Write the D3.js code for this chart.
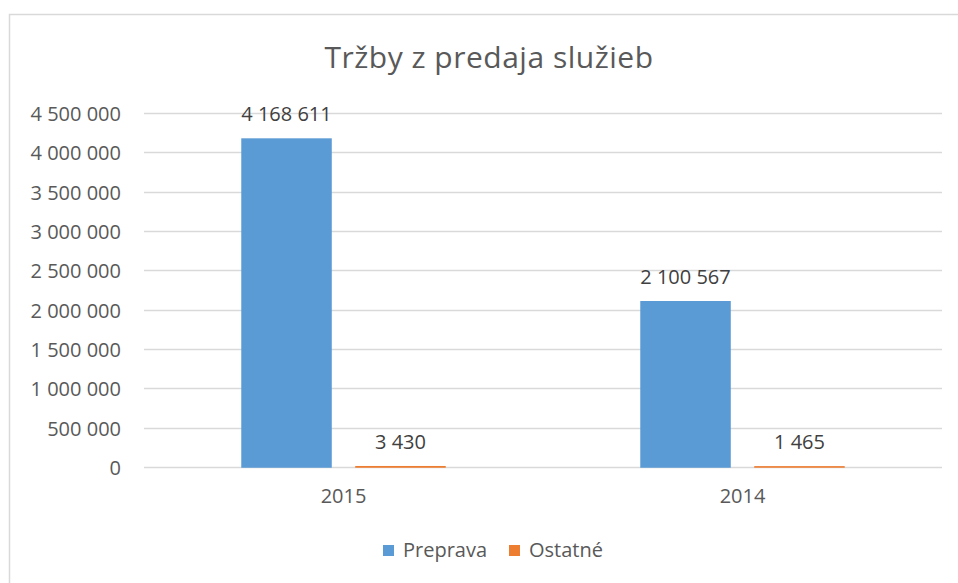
<!DOCTYPE html>
<html><head><meta charset="utf-8">
<script src="https://cdn.jsdelivr.net/npm/d3@7"></script>
<style>html,body{margin:0;padding:0;background:#fff;}svg{display:block;font-family:"Open Sans",Lato,sans-serif;}</style>
</head><body>
<svg id="c" width="958" height="583"></svg>
<script>
const title = "Tržby z predaja služieb";
const categories = ["2015", "2014"];
const seriesNames = ["Preprava", "Ostatné"];
const preprava = [4168611, 2100567];
const ostatne = [3430, 1465];
const yTicks = [0, 500000, 1000000, 1500000, 2000000, 2500000, 3000000, 3500000, 4000000, 4500000];
const colors = ["#5B9BD5", "#ED7D31"];

const svg = d3.select("#c");
const W = 958, H = 583;
const m = {left: 144, right: 16, top: 113, bottom: 116};
const textCol = "#595959";
const FONT = '"Open Sans", Lato, sans-serif';

// outer frame
svg.append("rect").attr("x", 9.5).attr("y", 14.5).attr("width", 1000).attr("height", 1000)
  .attr("fill", "none").attr("stroke", "#d9d9d9").attr("stroke-width", 1.5);

const x0 = d3.scaleBand().domain(categories).range([m.left, W - m.right]).paddingInner(0).paddingOuter(0);
const x1 = d3.scaleBand().domain(seriesNames).range([0, x0.bandwidth()]).paddingInner(0.219).paddingOuter(0.86);
const y = d3.scaleLinear().domain([0, 4500000]).range([H - m.bottom, m.top]);

const fmt = v => d3.format(",")(v).replace(/,/g, " ");

// gridlines
svg.append("g").selectAll("line").data(yTicks).join("line")
  .attr("x1", m.left).attr("x2", W - m.right)
  .attr("y1", d => Math.round(y(d)) + 0.5).attr("y2", d => Math.round(y(d)) + 0.5)
  .attr("stroke", "#d9d9d9").attr("stroke-width", 1.3);

// y axis labels
const yAxis = d3.axisLeft(y).tickValues(yTicks).tickFormat(fmt).tickSize(0).tickPadding(23);
const gy = svg.append("g").attr("transform", `translate(${m.left},0)`).call(yAxis);
gy.select(".domain").remove();
gy.selectAll("text").attr("fill", textCol).attr("dy", "0.38em")
  .style("font-size", "20px").style("font-family", FONT);

// x axis labels
const xAxis = d3.axisBottom(x0).tickSize(0).tickPadding(22);
const gx = svg.append("g").attr("transform", `translate(0,${H - m.bottom})`).call(xAxis);
gx.select(".domain").remove();
gx.selectAll("text").attr("fill", textCol)
  .style("font-size", "20px").style("font-family", FONT);

const data = categories.map((c, i) => ({cat: c, vals: [
  {s: seriesNames[0], v: preprava[i], c: colors[0]},
  {s: seriesNames[1], v: ostatne[i], c: colors[1]}]}));

const groups = svg.append("g").selectAll("g").data(data).join("g")
  .attr("transform", d => `translate(${x0(d.cat)},0)`);

groups.selectAll("rect").data(d => d.vals).join("rect")
  .attr("x", d => x1(d.s)).attr("width", x1.bandwidth())
  .attr("y", d => y(d.v)).attr("height", d => y(0) - y(d.v))
  .attr("fill", d => d.c).attr("stroke", d => d.c).attr("stroke-width", 1.5);

groups.selectAll("text").data(d => d.vals).join("text")
  .attr("x", d => x1(d.s) + x1.bandwidth() / 2)
  .attr("y", d => y(d.v) - 18)
  .attr("text-anchor", "middle").attr("fill", "#404040")
  .style("font-size", "20px").text(d => fmt(d.v));

// title
svg.append("text").attr("x", 489).attr("y", 68).attr("text-anchor", "middle")
  .attr("fill", textCol).style("font-size", "30px").style("letter-spacing", "0.5px").text(title);

// legend
const leg = svg.append("g");
const legItems = [{n: seriesNames[0], c: colors[0], x: 383}, {n: seriesNames[1], c: colors[1], x: 509}];
leg.selectAll("rect").data(legItems).join("rect")
  .attr("x", d => d.x).attr("y", 545).attr("width", 11).attr("height", 11).attr("fill", d => d.c);
leg.selectAll("text").data(legItems).join("text")
  .attr("x", d => d.x + 20).attr("y", 557).attr("fill", textCol)
  .style("font-size", "20px").text(d => d.n);
</script>
</body></html>
